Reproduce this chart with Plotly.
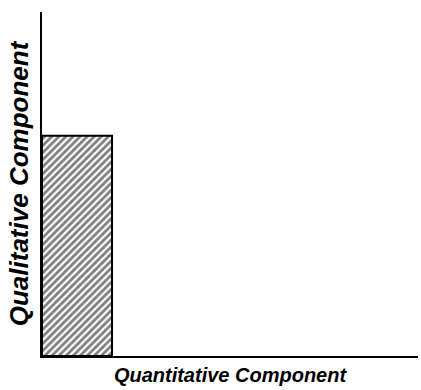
import plotly.graph_objects as go

categories = [0.5]
values = [0.64]
x_title = "Quantitative Component"
y_title = "Qualitative Component"

fig = go.Figure(go.Bar(
    x=categories, y=values, width=[1.0],
    marker=dict(color="white", line=dict(color="black", width=2),
                pattern=dict(shape="/", fgcolor="black", bgcolor="white", size=5, solidity=0.55)),
))

xfont = dict(family="Liberation Sans, Arial", size=20, color="black", weight="bold", style="italic")
yfont = dict(family="Liberation Sans, Arial", size=26, color="black", weight="bold", style="italic")
fig.update_layout(
    width=421, height=390, margin=dict(l=42, r=3, t=12, b=34),
    paper_bgcolor="white", plot_bgcolor="white", showlegend=False,
    xaxis=dict(range=[0, 376/70], showgrid=False, zeroline=False, showticklabels=False,
               ticks="", showline=True, linecolor="black", linewidth=2, automargin=False,
               title=dict(text=x_title, font=xfont, standoff=11)),
    yaxis=dict(range=[0, 1], showgrid=False, zeroline=False, showticklabels=False,
               ticks="", showline=True, linecolor="black", linewidth=2, automargin=False,
               title=dict(text=y_title, font=yfont, standoff=4)),
)
fig.write_html("out.html", config={"displayModeBar": False},
               post_script="document.body.style.margin='0';document.body.style.overflow='hidden';")
